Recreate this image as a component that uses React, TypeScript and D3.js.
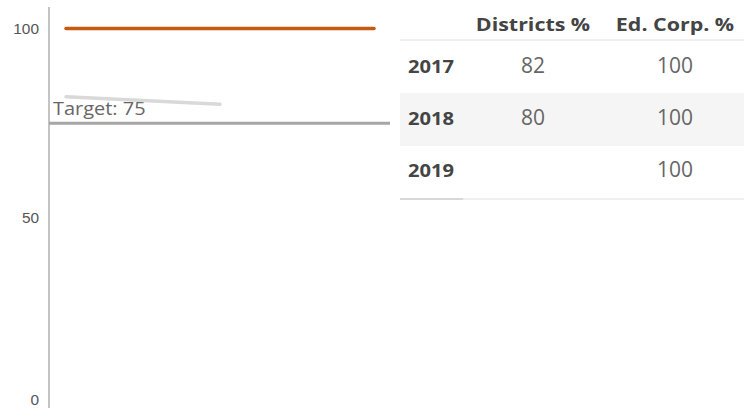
import React, { useEffect, useRef } from "react";
import * as d3 from "d3";

const years = ["2017", "2018", "2019"];
const districts: (number | null)[] = [82, 80, null];
const edCorp: number[] = [100, 100, 100];
const yTicks = [0, 50, 100];
const target = 75;
const headers = ["Districts %", "Ed. Corp. %"];

export default function App() {
  const ref = useRef<SVGSVGElement>(null);
  useEffect(() => {
    const svg = d3.select(ref.current);
    svg.selectAll("*").remove();
    const W = 744, H = 408;
    const y = d3.scaleLinear().domain([0, 100]).range([407.5, 28.5]);
    const x = d3.scalePoint<string>().domain(years).range([66, 374]);

    const stretchText = (
      g: d3.Selection<any, any, any, any>,
      tx: number, ty: number, sx: number, txt: string,
      opts: { size: number; weight?: string; fill: string; anchor?: string; family?: string }
    ) => {
      g.append("g").attr("transform", `translate(${tx},${ty}) scale(${sx},1)`)
        .append("text")
        .attr("text-anchor", opts.anchor || "start")
        .attr("font-family", opts.family || "Open Sans, sans-serif")
        .attr("font-size", opts.size)
        .attr("font-weight", opts.weight || "normal")
        .attr("fill", opts.fill)
        .text(txt);
    };

    // axis
    const ax = svg.append("g").attr("transform", "translate(49,0)");
    ax.append("line").attr("x1", 0).attr("x2", 0).attr("y1", 7).attr("y2", H).attr("stroke", "#888").attr("stroke-width", 1);
    yTicks.forEach((d) => {
      stretchText(ax, -10, Math.min(y(d), 400) + 5, 1.1, String(d), {
        size: 14, fill: "#555", anchor: "end", family: "Liberation Sans, Arial, sans-serif",
      });
    });

    // target
    svg.append("line").attr("x1", 49).attr("x2", 390).attr("y1", y(target)).attr("y2", y(target))
      .attr("stroke", "#a6a6a6").attr("stroke-width", 3);
    stretchText(svg, 53, 115, 1.14, "Target: " + target, { size: 17.5, fill: "#666" });

    // lines
    const line = d3.line<[string, number | null]>()
      .defined((d) => d[1] != null)
      .x((d) => x(d[0]) as number)
      .y((d) => y(d[1] as number));
    svg.append("path").datum(years.map((yr, i) => [yr, districts[i]] as [string, number | null]))
      .attr("d", line).attr("fill", "none").attr("stroke", "#d9d9d9").attr("stroke-width", 3.5).attr("stroke-linecap", "round");
    svg.append("path").datum(years.map((yr, i) => [yr, edCorp[i]] as [string, number | null]))
      .attr("d", line).attr("fill", "none").attr("stroke", "#c55a11").attr("stroke-width", 3.5).attr("stroke-linecap", "round");

    // table
    const t = svg.append("g");
    const colX = [533, 675];
    const rowY = [73, 125, 177];
    t.append("rect").attr("x", 400).attr("y", 93).attr("width", W - 400).attr("height", 53).attr("fill", "#f5f5f5");
    t.append("line").attr("x1", 400).attr("x2", W).attr("y1", 40).attr("y2", 40).attr("stroke", "#e0e0e0").attr("stroke-width", 1);
    t.append("line").attr("x1", 400).attr("x2", W).attr("y1", 199).attr("y2", 199).attr("stroke", "#e0e0e0").attr("stroke-width", 1);
    t.append("line").attr("x1", 400).attr("x2", 463).attr("y1", 199).attr("y2", 199).attr("stroke", "#d0d0d0").attr("stroke-width", 1.5);
    headers.forEach((h, i) => {
      stretchText(t, colX[i], 31, 1.19, h, { size: 18, weight: "bold", fill: "#444", anchor: "middle" });
    });
    years.forEach((yr, i) => {
      stretchText(t, 408, rowY[i], 1.12, yr, { size: 18, weight: "bold", fill: "#444" });
      const vals = [districts[i], edCorp[i]];
      vals.forEach((v, j) => {
        if (v == null) return;
        stretchText(t, colX[j], rowY[i], 1.0, String(v), { size: 21, fill: "#666", anchor: "middle" });
      });
    });
  }, []);
  return (
    <svg ref={ref} width={744} height={408} style={{ position: "absolute", left: 0, top: 0 }} />
  );
}
